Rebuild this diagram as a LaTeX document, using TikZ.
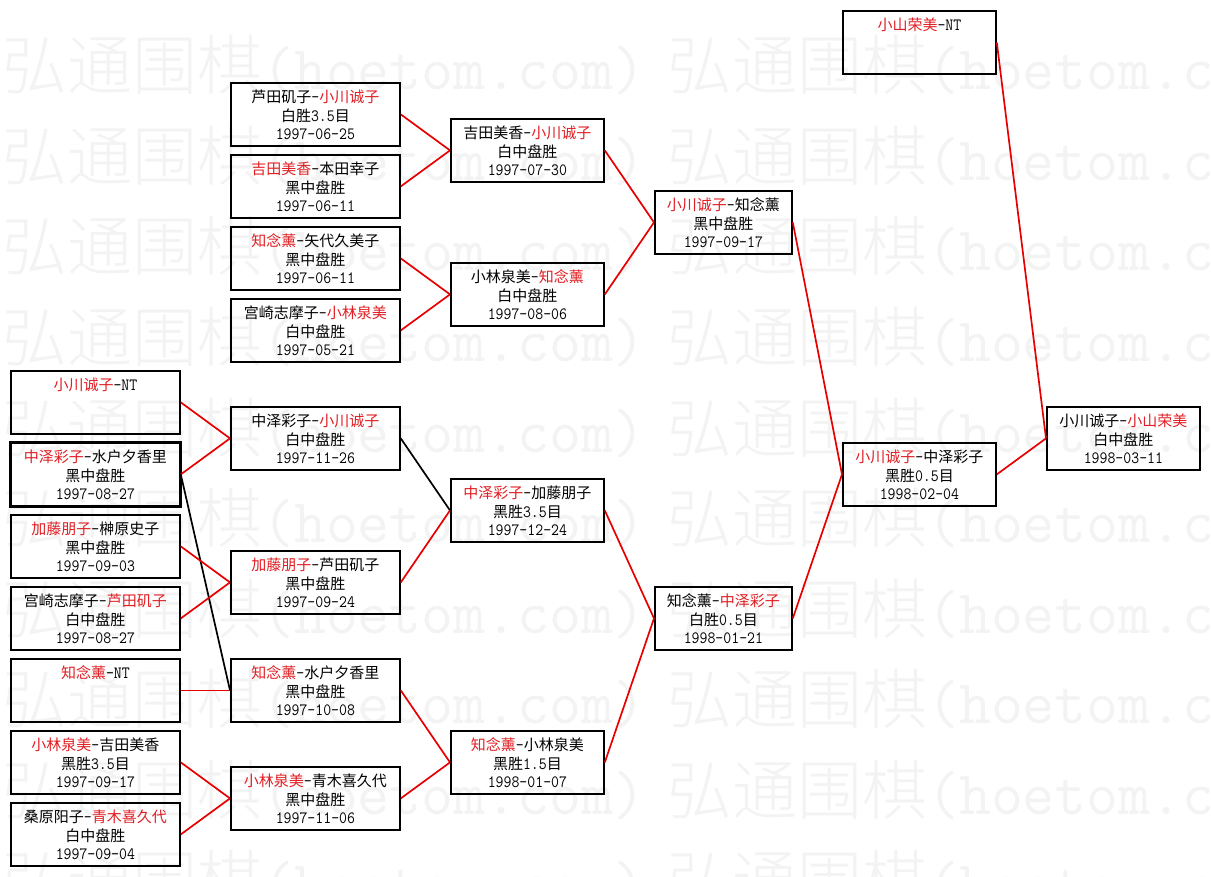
\documentclass[tikz,border=0pt]{standalone}
\usepackage{fontspec}
\setmainfont{Noto Sans CJK SC}
\newfontfamily\wmcjk{Noto Sans CJK SC Light}
\definecolor{wred}{RGB}{225,30,35}
\definecolor{lred}{RGB}{232,0,0}
\definecolor{wmgray}{RGB}{243,243,243}
\newcommand\rn[1]{\textcolor{wred}{#1}}
\newcommand\mono[1]{{\ttfamily\fontsize{15.4pt}{18.5pt}\selectfont\scalebox{1}[1.12]{#1}}}
\newcommand\hy{\mono{-}}
\newcommand\gbox[5]{%
  \node[gbox, minimum width=#4pt] (#1) at (#2,#3) {};
  \node[gtext] (#1t) at ([yshift=-7.6pt]#1.north) {#5};}
\begin{document}
\begin{tikzpicture}[x=1pt,y=-1pt,
  gbox/.style={draw=black, line width=1.8pt, anchor=north west, minimum height=63pt, inner sep=0pt},
  gtext/.style={anchor=north, inner sep=0pt, align=center, font=\fontsize{15pt}{18.5pt}\selectfont},
  win/.style={draw=lred, line width=1.7pt},
  other/.style={draw=black, line width=1.7pt},
  wm/.style={anchor=base west, inner sep=0pt, text=wmgray}]
\useasboundingbox (0,0) rectangle (1211,877);
\fill[white] (0,0) rectangle (1211,877);
\begin{scope}
\clip (0,0) rectangle (1211,877);
\foreach \k in {0,...,9}{
  \node[wm] (wm\k a) at (2,{90+90.5*\k}) {{\wmcjk\fontsize{65pt}{65pt}\selectfont 弘通围棋}{\ttfamily\fontsize{62pt}{62pt}\selectfont (hoetom.com)}};
  \node[wm] (wm\k b) at (667,{90+90.5*\k}) {{\wmcjk\fontsize{65pt}{65pt}\selectfont 弘通围棋}{\ttfamily\fontsize{62pt}{62pt}\selectfont (hoetom.com)}};
}
\end{scope}
% column 1
\gbox{c1a}{10}{370}{169}{\strut\rn{小川诚子}\hy\mono{NT}}
\gbox{c1b}{10}{442}{169}{\strut\rn{中泽彩子}\hy 水户夕香里\\黑中盘胜\\\mono{1997-08-27}}
\draw[line width=2.8pt] (c1b.north west) rectangle (c1b.south east);
\gbox{c1c}{10}{514}{169}{\strut\rn{加藤朋子}\hy 榊原史子\\黑中盘胜\\\mono{1997-09-03}}
\gbox{c1d}{10}{586}{169}{\strut 宫崎志摩子\hy\rn{芦田矶子}\\白中盘胜\\\mono{1997-08-27}}
\gbox{c1e}{10}{658}{169}{\strut\rn{知念薰}\hy\mono{NT}}
\gbox{c1f}{10}{730}{169}{\strut\rn{小林泉美}\hy 吉田美香\\黑胜\mono{3.5}目\\\mono{1997-09-17}}
\gbox{c1g}{10}{802}{169}{\strut 桑原阳子\hy\rn{青木喜久代}\\白中盘胜\\\mono{1997-09-04}}
% column 2
\gbox{c2a}{230}{82}{169}{\strut 芦田矶子\hy\rn{小川诚子}\\白胜\mono{3.5}目\\\mono{1997-06-25}}
\gbox{c2b}{230}{154}{169}{\strut\rn{吉田美香}\hy 本田幸子\\黑中盘胜\\\mono{1997-06-11}}
\gbox{c2c}{230}{226}{169}{\strut\rn{知念薰}\hy 矢代久美子\\黑中盘胜\\\mono{1997-06-11}}
\gbox{c2d}{230}{298}{169}{\strut 宫崎志摩子\hy\rn{小林泉美}\\白中盘胜\\\mono{1997-05-21}}
\gbox{c2e}{230}{406}{169}{\strut 中泽彩子\hy\rn{小川诚子}\\白中盘胜\\\mono{1997-11-26}}
\gbox{c2f}{230}{550}{169}{\strut\rn{加藤朋子}\hy 芦田矶子\\黑中盘胜\\\mono{1997-09-24}}
\gbox{c2g}{230}{658}{169}{\strut\rn{知念薰}\hy 水户夕香里\\黑中盘胜\\\mono{1997-10-08}}
\gbox{c2h}{230}{766}{169}{\strut\rn{小林泉美}\hy 青木喜久代\\黑中盘胜\\\mono{1997-11-06}}
% column 3
\gbox{c3a}{450}{118}{153}{\strut 吉田美香\hy\rn{小川诚子}\\白中盘胜\\\mono{1997-07-30}}
\gbox{c3b}{450}{262}{153}{\strut 小林泉美\hy\rn{知念薰}\\白中盘胜\\\mono{1997-08-06}}
\gbox{c3c}{450}{478}{153}{\strut\rn{中泽彩子}\hy 加藤朋子\\黑胜\mono{3.5}目\\\mono{1997-12-24}}
\gbox{c3d}{450}{730}{153}{\strut\rn{知念薰}\hy 小林泉美\\黑胜\mono{1.5}目\\\mono{1998-01-07}}
% column 4
\gbox{c4a}{654}{190}{137}{\strut\rn{小川诚子}\hy 知念薰\\黑中盘胜\\\mono{1997-09-17}}
\gbox{c4b}{654}{586}{137}{\strut 知念薰\hy\rn{中泽彩子}\\白胜\mono{0.5}目\\\mono{1998-01-21}}
% column 5
\gbox{c5a}{842}{10}{153}{\strut\rn{小山荣美}\hy\mono{NT}}
\gbox{c5b}{842}{442}{153}{\strut\rn{小川诚子}\hy 中泽彩子\\黑胜\mono{0.5}目\\\mono{1998-02-04}}
% column 6
\gbox{c6a}{1046}{406}{153}{\strut 小川诚子\hy\rn{小山荣美}\\白中盘胜\\\mono{1998-03-11}}
% connectors
\draw[win] (c1a.east) -- (c2e.west);
\draw[win] (c1b.east) -- (c2e.west);
\draw[other] (c1b.east) -- (c2g.west);
\draw[win] (c1c.east) -- (c2f.west);
\draw[win] (c1d.east) -- (c2f.west);
\draw[win] (c1e.east) -- (c2g.west);
\draw[win] (c1f.east) -- (c2h.west);
\draw[win] (c1g.east) -- (c2h.west);
\draw[win] (c2a.east) -- (c3a.west);
\draw[win] (c2b.east) -- (c3a.west);
\draw[win] (c2c.east) -- (c3b.west);
\draw[win] (c2d.east) -- (c3b.west);
\draw[other] (c2e.east) -- (c3c.west);
\draw[win] (c2f.east) -- (c3c.west);
\draw[win] (c2g.east) -- (c3d.west);
\draw[win] (c2h.east) -- (c3d.west);
\draw[win] (c3a.east) -- (c4a.west);
\draw[win] (c3b.east) -- (c4a.west);
\draw[win] (c3c.east) -- (c4b.west);
\draw[win] (c3d.east) -- (c4b.west);
\draw[win] (c4a.east) -- (c5b.west);
\draw[win] (c4b.east) -- (c5b.west);
\draw[win] (c5a.east) -- (c6a.west);
\draw[win] (c5b.east) -- (c6a.west);
\end{tikzpicture}
\end{document}
